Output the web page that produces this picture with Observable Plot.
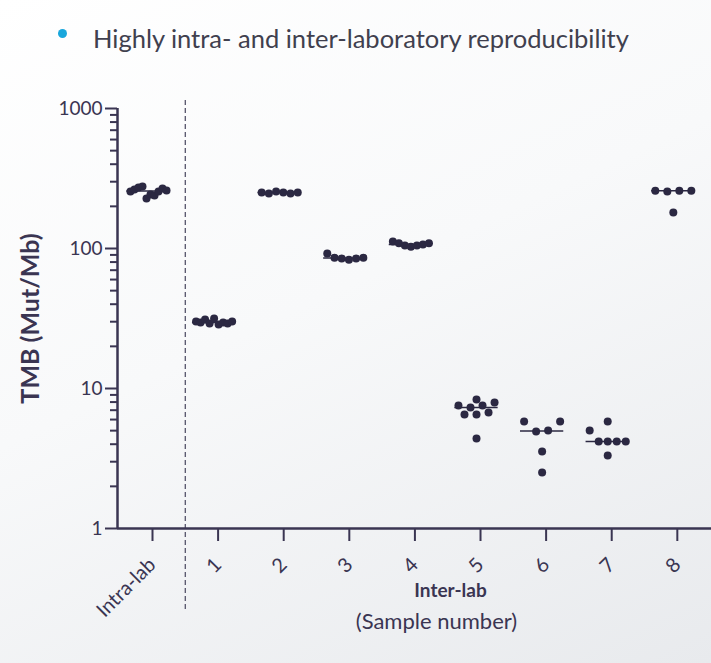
<!DOCTYPE html>
<html><head><meta charset="utf-8">
<script src="https://cdn.jsdelivr.net/npm/d3@7"></script>
<script src="https://cdn.jsdelivr.net/npm/@observablehq/plot@0.6"></script>
<style>
html,body{margin:0;padding:0;}
body{width:711px;height:663px;overflow:hidden;background:linear-gradient(155deg,#ffffff 0%,#f8f9fa 45%,#e8eaed 100%);font-family:Lato,sans-serif;}
#head{position:relative;height:70px;}
#bullet{position:absolute;left:58px;top:29px;width:9px;height:9px;border-radius:50%;background:#19a7dc;}
#title{position:absolute;left:93px;top:25px;font-size:25.5px;line-height:26px;color:#40404e;white-space:nowrap;}
svg{display:block;}
</style></head>
<body>
<div id="head"><div id="bullet"></div><div id="title">Highly intra- and inter-laboratory reproducibility</div></div>
<div id="chart"></div>
<script>
// ---- data (TMB, Mut/Mb), left-to-right order ----
const categories = ["Intra-lab", "1", "2", "3", "4", "5", "6", "7", "8"];
const intraLab = [255, 264, 273, 277, 228, 243, 239, 255, 268, 260];
const sample1 = [30.1, 29.6, 31.1, 29.1, 31.6, 28.7, 29.6, 29.1, 30.1];
const sample2 = [251, 247, 255, 251, 247, 251];
const sample3 = [92, 86, 85, 83, 85, 86];
const sample4 = [112, 109, 105, 103, 105, 107, 109];
const sample5 = [7.56, 6.52, 7.32, 8.35, 6.52, 4.39, 7.56, 6.74, 7.94];
const sample6 = [5.81, 4.93, 5.01, 5.81, 3.55, 2.51];
const sample7 = [5.01, 4.18, 4.18, 4.18, 4.18, 5.81, 3.32];
const sample8 = [259, 255, 259, 259, 181];
const yTicks = [1, 10, 100, 1000];
const yLabel = "TMB (Mut/Mb)";
const xLabel = "Inter-lab";
const xSubLabel = "(Sample number)";

const groups = [intraLab, sample1, sample2, sample3, sample4, sample5, sample6, sample7, sample8];

// scatter-dot layout: values within ROW_TOL decades share a row, spread horizontally
const ROW_TOL = 0.09, STEP = 0.183, MAXW = 0.55;
const points = [];
groups.forEach((vals, gi) => {
  const items = vals.map((v, k) => ({v, k, l: Math.log10(v)}));
  const sorted = items.slice().sort((a, b) => a.l - b.l);
  const rows = [];
  let cur = null;
  for (const it of sorted) {
    if (!cur || it.l - cur.min > ROW_TOL) { cur = {min: it.l, items: []}; rows.push(cur); }
    cur.items.push(it);
  }
  for (const row of rows) {
    row.items.sort((a, b) => a.k - b.k);
    const n = row.items.length;
    const step = n > 1 ? Math.min(STEP, MAXW / (n - 1)) : 0;
    row.items.forEach((it, j) => points.push({cat: gi, x: gi + (j - (n - 1) / 2) * step, v: it.v}));
  }
});
const medians = groups.map((vals, gi) => ({cat: gi, m: d3.median(vals)}));
const minorTicks = [];
for (const dec of [1, 10, 100]) for (let m = 2; m <= 9; m++) minorTicks.push(m * dec);

const ink = "#3a3552";
const dotColor = "#2b2842";
const xDomain = [-0.5335, 8.521];

const chart = Plot.plot({
  width: 711, height: 593,
  marginLeft: 117, marginRight: 0, marginTop: 38, marginBottom: 135,
  style: {background: "transparent", fontFamily: "Lato, sans-serif", color: ink, overflow: "visible"},
  x: {type: "linear", domain: xDomain},
  y: {type: "log", domain: [1, 1000]},
  marks: [
    Plot.ruleX([0.5], {stroke: "#55546a", strokeWidth: 1.3, strokeDasharray: "5,3", insetTop: -8, insetBottom: -82}),
    Plot.axisY(minorTicks, {tickSize: 7, tickFormat: () => "", strokeWidth: 2, label: null}),
    Plot.axisY(yTicks, {tickSize: 12, tickPadding: 3, fontSize: 19, strokeWidth: 2, label: null, tickFormat: d => String(d)}),
    Plot.axisX(d3.range(categories.length), {tickSize: 13, tickRotate: -45, tickPadding: 20, fontSize: 20, strokeWidth: 2, label: null, tickFormat: i => categories[i]}),
    Plot.ruleX([xDomain[0]], {stroke: ink, strokeWidth: 2.5}),
    Plot.ruleY([1], {stroke: ink, strokeWidth: 2.5}),
    Plot.ruleY(medians, {y: "m", x1: d => d.cat - 0.33, x2: d => d.cat + 0.33, dx: -4, stroke: dotColor, strokeWidth: 1.5}),
    Plot.dot(points, {x: "x", y: "v", r: 4, fill: dotColor, dx: -4}),
    Plot.text([yLabel], {frameAnchor: "left", textAnchor: "middle", rotate: -90, dx: -87, dy: 0, fontSize: 25, fontWeight: "bold", fill: ink}),
    Plot.text([xLabel], {frameAnchor: "bottom", dx: 36, dy: 68, fontSize: 19, fontWeight: "bold", fill: ink}),
    Plot.text([xSubLabel], {frameAnchor: "bottom", dx: 22, dy: 100, fontSize: 22, fill: ink})
  ]
});
document.getElementById("chart").appendChild(chart);
</script>
</body></html>
